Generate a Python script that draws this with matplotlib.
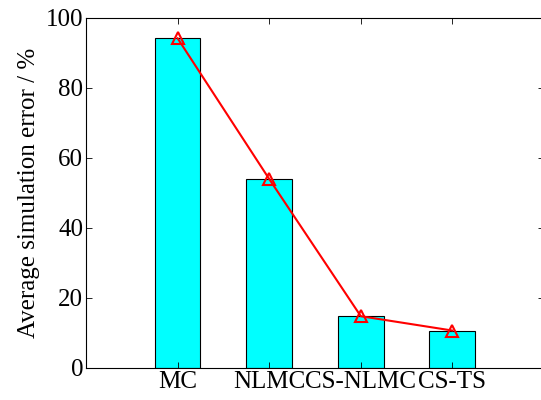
import matplotlib.pyplot as plt

plt.rcParams["font.family"] = ["Liberation Serif", "DejaVu Serif"]

methods = ["MC", "NLMC", "CS-NLMC", "CS-TS"]
errors = [94.2, 54.0, 14.8, 10.7]
positions = [1, 2, 3, 4]

fig = plt.figure(figsize=(5.41, 4.0), dpi=100)
ax = fig.add_axes([86 / 541, 32 / 400, 458 / 541, 350 / 400])

ax.bar(positions, errors, width=0.5, color="#00ffff", edgecolor="black", linewidth=0.8)
ax.plot(positions, errors, color="red", linewidth=1.5, marker="^", markersize=9,
        markerfacecolor="none", markeredgecolor="red", markeredgewidth=1.5)

ax.set_xlim(0, 5)
ax.set_ylim(0, 100)
ax.set_xticks(positions)
ax.set_xticklabels(methods)
ax.set_yticks([0, 20, 40, 60, 80, 100])
ax.tick_params(direction="in", top=True, right=True, labelsize=18, length=4, width=0.6, pad=2)
ax.set_ylabel("Average simulation error / %", fontsize=18, labelpad=4)
for s in ax.spines.values():
    s.set_linewidth(0.8)

fig.savefig("out.png", dpi=100)
